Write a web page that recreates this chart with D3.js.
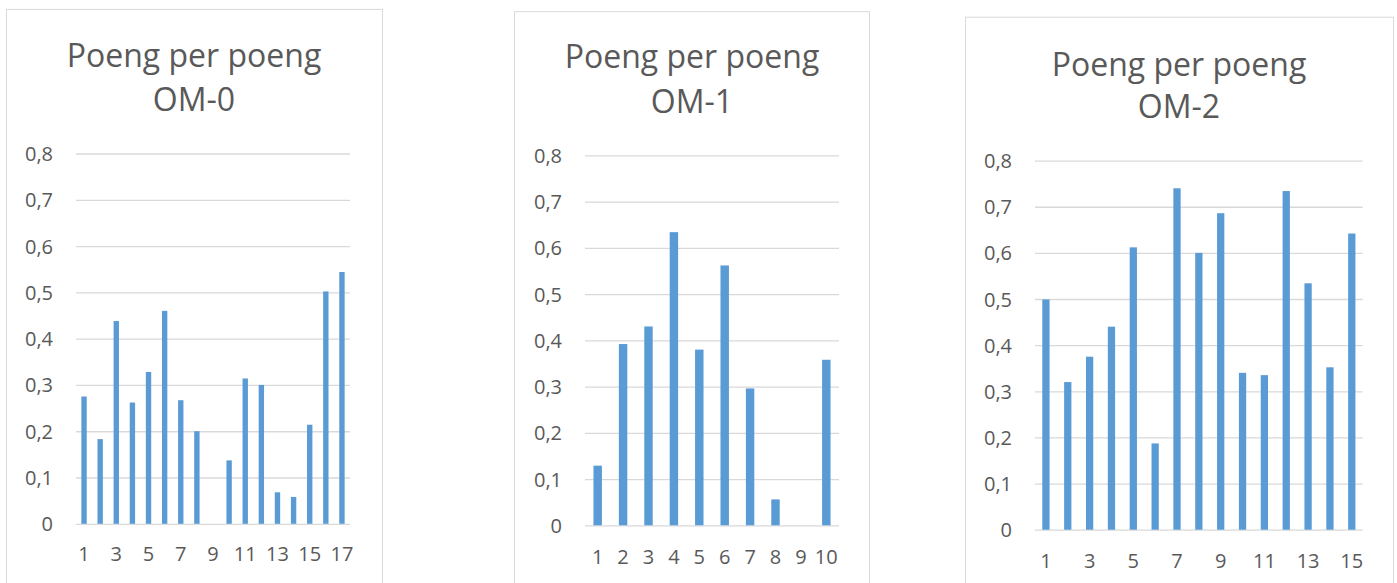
<!DOCTYPE html>
<html>
<head>
<meta charset="utf-8">
<script src="https://cdn.jsdelivr.net/npm/d3@7"></script>
<style>
  html, body { margin: 0; padding: 0; background: #ffffff; }
  svg { display: block; }
  text { font-family: "Open Sans", "Noto Sans", sans-serif; fill: #595959; }
</style>
</head>
<body>
<svg id="chart" width="1397" height="583"></svg>
<script>
// ---- data ----
const titleLine1 = "Poeng per poeng";
const om0Title = "OM-0";
const om1Title = "OM-1";
const om2Title = "OM-2";

const om0Categories = [1, 2, 3, 4, 5, 6, 7, 8, 9, 10, 11, 12, 13, 14, 15, 16, 17];
const om0Values = [0.275, 0.183, 0.438, 0.262, 0.328, 0.460, 0.267, 0.200, 0, 0.137, 0.314, 0.300, 0.068, 0.058, 0.214, 0.502, 0.544];
const om0XTicks = [1, 3, 5, 7, 9, 11, 13, 15, 17];

const om1Categories = [1, 2, 3, 4, 5, 6, 7, 8, 9, 10];
const om1Values = [0.129, 0.392, 0.430, 0.634, 0.380, 0.562, 0.296, 0.056, 0, 0.358];
const om1XTicks = [1, 2, 3, 4, 5, 6, 7, 8, 9, 10];

const om2Categories = [1, 2, 3, 4, 5, 6, 7, 8, 9, 10, 11, 12, 13, 14, 15];
const om2Values = [0.499, 0.320, 0.375, 0.440, 0.612, 0.187, 0.740, 0.600, 0.686, 0.340, 0.335, 0.734, 0.534, 0.352, 0.642];
const om2XTicks = [1, 3, 5, 7, 9, 11, 13, 15];

const yTicks = [0, 0.1, 0.2, 0.3, 0.4, 0.5, 0.6, 0.7, 0.8];

// ---- layout ----
const panels = [
  { title: om0Title, cats: om0Categories, vals: om0Values, xt: om0XTicks,
    frame: { x0: 6, y0: 8.9, x1: 382 }, plot: { x0: 76, x1: 350, y0: 153.5, y1: 523.8 },
    tcx: 194, t1: 66.9, t2: 110.8, xly: 554 },
  { title: om1Title, cats: om1Categories, vals: om1Values, xt: om1XTicks,
    frame: { x0: 514, y0: 11.2, x1: 869 }, plot: { x0: 585, x1: 839, y0: 155.4, y1: 525.3 },
    tcx: 692, t1: 68, t2: 112.6, xly: 556.5 },
  { title: om2Title, cats: om2Categories, vals: om2Values, xt: om2XTicks,
    frame: { x0: 965, y0: 16.7, x1: 1393 }, plot: { x0: 1035, x1: 1362.7, y0: 160.6, y1: 529.7 },
    tcx: 1179, t1: 76.2, t2: 118.2, xly: 561 }
];

const svg = d3.select("#chart");
const fmt = v => d3.format(".1f")(v).replace(".", ",").replace(/^0,0$/, "0");

panels.forEach(p => {
  const g = svg.append("g");
  // frame
  g.append("rect")
    .attr("x", p.frame.x0 + 0.5).attr("y", p.frame.y0 + 0.5)
    .attr("width", p.frame.x1 - p.frame.x0).attr("height", 700)
    .attr("fill", "#ffffff").attr("stroke", "#d9d9d9").attr("stroke-width", 1);

  // title
  const tt = g.append("text").attr("text-anchor", "middle").style("font-size", "32px");
  tt.append("tspan").attr("x", p.tcx).attr("y", p.t1).text(titleLine1);
  tt.append("tspan").attr("x", p.tcx).attr("y", p.t2).text(p.title);

  const x = d3.scaleBand().domain(p.cats).range([p.plot.x0, p.plot.x1]).paddingInner(0.667).paddingOuter(0.333);
  const y = d3.scaleLinear().domain([0, 0.8]).range([p.plot.y1, p.plot.y0]);

  // gridlines via axis
  const yAxis = d3.axisLeft(y).tickValues(yTicks).tickSize(-(p.plot.x1 - p.plot.x0)).tickPadding(23).tickFormat(fmt);
  const ya = g.append("g").attr("transform", `translate(${p.plot.x0},0)`).call(yAxis);
  ya.select(".domain").remove();
  ya.selectAll(".tick line").attr("stroke", "#d9d9d9").attr("stroke-width", 1.3);
  ya.selectAll(".tick text").style("font-size", "20px").attr("fill", "#595959").attr("dy", "0.35em");

  // bars
  g.append("g").selectAll("rect").data(p.vals).join("rect")
    .attr("x", (d, i) => x(p.cats[i]))
    .attr("width", x.bandwidth())
    .attr("y", d => y(d))
    .attr("height", d => y(0) - y(d))
    .attr("fill", "#5b9bd5");

  // x axis labels
  const xAxis = d3.axisBottom(x).tickValues(p.xt).tickSize(0).tickPadding(0);
  const xa = g.append("g").attr("transform", `translate(0,${p.xly})`).call(xAxis);
  xa.select(".domain").remove();
  xa.selectAll(".tick text").style("font-size", "20px").attr("fill", "#595959").attr("dy", "0.35em").attr("y", 0);
});
</script>
</body>
</html>
